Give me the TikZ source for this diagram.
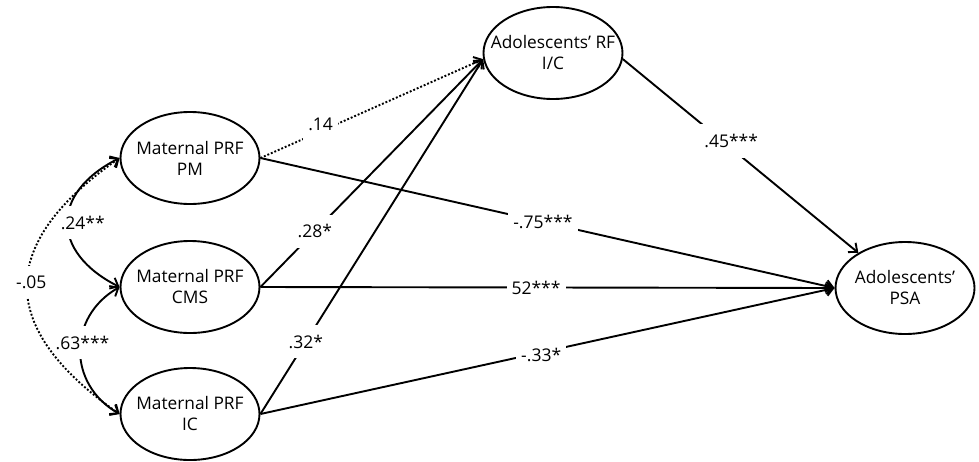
\documentclass[tikz,border=0pt]{standalone}
\usepackage{fontspec}
\setmainfont{Open Sans}
\usetikzlibrary{arrows.meta,shapes.geometric}
\begin{document}
\begin{tikzpicture}[x=1pt,y=-1pt,
  var/.style={draw, ellipse, line width=1.9pt, minimum width=139pt, minimum height=92pt, inner sep=0pt},
  vtext/.style={align=center, font=\fontsize{17.3pt}{21pt}\selectfont},
  conn/.style={line width=1.9pt, >={Straight Barb[length=7pt,width=12pt]}},
  dotline/.style={dash pattern=on 1.9pt off 1.9pt},
  lab/.style={fill=white, inner xsep=5pt, inner ysep=10pt, font=\fontsize{17.5pt}{19pt}\selectfont}
]
\useasboundingbox (0,0) rectangle (979,461);

\node[var, label={[vtext]center:Maternal PRF\\PM}] (pm) at (190,158) {};
\node[var, label={[vtext]center:Maternal PRF\\CMS}] (cms) at (190,287) {};
\node[var, label={[vtext]center:Maternal PRF\\IC}] (ic) at (190,414) {};
\node[var, label={[vtext]center:Adolescents’ RF\\I/C}] (rf) at (553,53) {};
\node[var, label={[vtext]center:Adolescents’\\PSA}] (psa) at (905,288) {};

% covariances
\draw[conn, <->] (pm.west) .. controls +(-69,35) and +(-69,-35) .. (cms.west)
  node[lab, pos=0.5, xshift=15pt] {.24**};
\draw[conn, <->] (cms.west) .. controls +(-52,30) and +(-52,-30) .. (ic.west)
  node[lab, pos=0.5, xshift=2pt, yshift=8pt] {.63***};
\draw[conn, dotline, <->] (pm.west) .. controls +(-123,86) and +(-123,-86) .. (ic.west)
  node[lab, pos=0.5, xshift=4pt, yshift=4pt] {-.05};

% paths to RF
\draw[conn, dotline, ->] (pm.east) -- (rf.185)
  node[lab, pos=0.27, yshift=7pt] {.14};
\draw[conn, ->] (cms.east) -- (rf.185)
  node[lab, pos=0.244] {.28*};
\draw[conn, ->] (ic.east) -- (rf.185)
  node[lab, pos=0.204] {.32*};

% paths to PSA
\draw[conn, ->] (pm.east) -- (psa.west)
  node[lab, pos=0.492] {-.75***};
\draw[conn, ->] (cms.east) -- (psa.west)
  node[lab, pos=0.48] {52***};
\draw[conn, ->] (ic.east) -- (psa.west)
  node[lab, pos=0.489, yshift=-3pt] {-.33*};
\draw[conn, ->] (rf.-5) -- (psa.143)
  node[lab, pos=0.46, yshift=7pt] {.45***};
\end{tikzpicture}
\end{document}
